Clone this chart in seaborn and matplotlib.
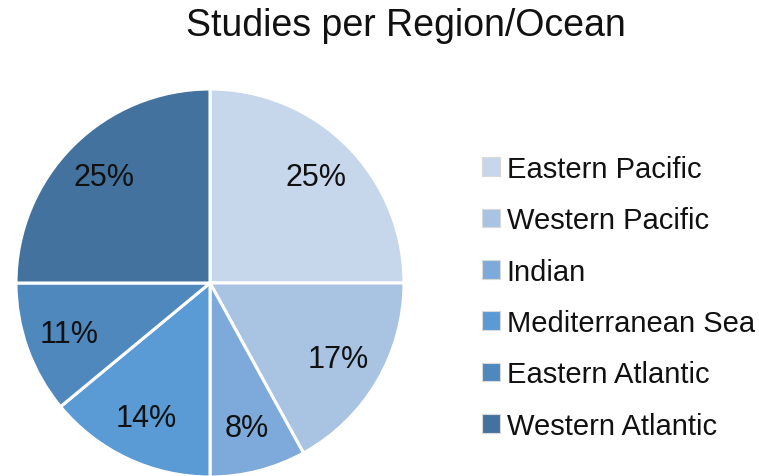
import matplotlib
matplotlib.use("Agg")
import matplotlib.pyplot as plt
import seaborn as sns

regions = ["Eastern Pacific", "Western Pacific", "Indian",
           "Mediterranean Sea", "Eastern Atlantic", "Western Atlantic"]
shares = [25, 17, 8, 14, 11, 25]
colors = ["#C6D6EB", "#A9C3E3", "#7EAADB", "#5B9BD5", "#4E88BD", "#43729E"]

sns.set_theme(style="white")
plt.rcParams["font.family"] = ["Liberation Sans", "DejaVu Sans"]

W, H = 759, 477
fig = plt.figure(figsize=(W / 100, H / 100), dpi=100)

# pie axes: square in pixels, centred at (210, 284), radius 194 px
cx, cy, r = 210, 284, 194
ax = fig.add_axes([(cx - r) / W, (H - cy - r) / H, 2 * r / W, 2 * r / H])
wedges, texts, autotexts = ax.pie(
    shares, colors=colors, startangle=90, counterclock=False,
    autopct=lambda p: f"{p:.0f}%", pctdistance=0.77, radius=1.0,
    wedgeprops=dict(edgecolor="white", linewidth=2.2),
    textprops=dict(fontsize=22, color="#111111"),
)
ax.set_xlim(-1.0, 1.0)
ax.set_ylim(-1.0, 1.0)
ax.set_aspect("equal")
ax.axis("off")

fig.text(406 / W, 1 - 26 / H, "Studies per Region/Ocean",
         ha="center", va="center", fontsize=27, color="#111111")

leg = fig.legend(
    wedges, regions, loc="upper left",
    bbox_to_anchor=(482 / W, 1 - 156 / H),
    frameon=False, fontsize=21, handlelength=0.6, handleheight=0.6,
    handletextpad=0.25, labelspacing=0.80, borderpad=0, borderaxespad=0,
)
for t in leg.get_texts():
    t.set_color("#111111")
for h in leg.legend_handles:
    h.set_edgecolor("#d9d9d9")
    h.set_linewidth(0.8)

fig.savefig("out.png", dpi=100, facecolor="white")
